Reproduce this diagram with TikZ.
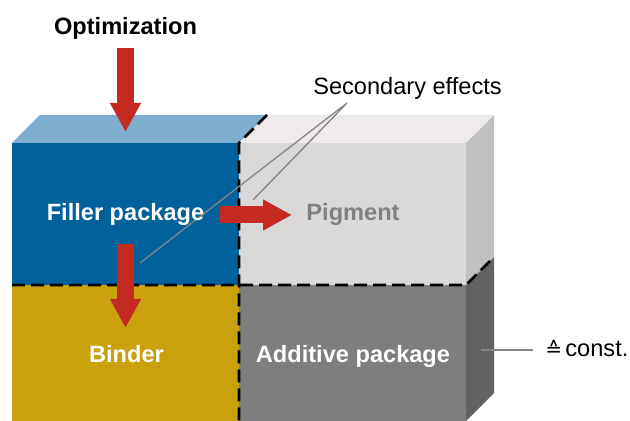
\documentclass[tikz,border=0pt]{standalone}
\usepackage{fontspec}
\setmainfont{Liberation Sans}
\newfontfamily\symfont{DejaVu Sans}
\usetikzlibrary{arrows.meta}
\definecolor{fillerfront}{HTML}{00619B}
\definecolor{fillertop}{HTML}{7FAECE}
\definecolor{pigfront}{HTML}{DAD9D8}
\definecolor{pigtop}{HTML}{EEEBEA}
\definecolor{pigside}{HTML}{C1C0BF}
\definecolor{binderc}{HTML}{C9A10C}
\definecolor{addfront}{HTML}{7F7E7D}
\definecolor{addside}{HTML}{636262}
\definecolor{arrowred}{HTML}{C42A20}
\definecolor{leadgray}{HTML}{858585}
\definecolor{pigtext}{HTML}{808080}
\tikzset{
  redarrow/.style={draw=arrowred, line width=8.5pt, -{Triangle[width=14.5pt,length=14.5pt]}},
  dashline/.style={line width=1.4pt, dash pattern=on 6.5pt off 3pt, line join=miter},
  leader/.style={draw=leadgray, line width=0.65pt},
  boldlabel/.style={font=\fontsize{11.8}{14}\selectfont\bfseries, inner sep=0pt, anchor=base},
  plainlabel/.style={font=\fontsize{11.8}{14}\selectfont, inner sep=0pt, anchor=base},
}
\begin{document}
\begin{tikzpicture}[x=0.5pt,y=-0.5pt]
\useasboundingbox (0,0) rectangle (630,421);
% faces
\fill[fillertop] (12,143) -- (40,115) -- (267,115) -- (239,143) -- cycle;
\fill[pigtop] (239,143) -- (267,115) -- (494,115) -- (466,143) -- cycle;
\fill[pigside] (466,143) -- (494,115) -- (494,257) -- (466,285) -- cycle;
\fill[addside] (466,285) -- (494,257) -- (494,393) -- (466,421) -- cycle;
\fill[fillerfront] (12,143) rectangle (239,285);
\fill[pigfront] (239,143) rectangle (466,285);
\fill[binderc] (12,285) rectangle (239,421);
\fill[addfront] (239,285) rectangle (466,421);
% dashed separators
\draw[dashline] (267,115) -- (239,143) -- (239,421);
\draw[dashline] (12,285) -- (466,285) -- (494,257);
% arrows
\coordinate (optS) at (125.5,48);
\coordinate (optE) at (125.5,132);
\coordinate (pigS) at (220,215);
\coordinate (pigE) at (292,215);
\coordinate (bindS) at (125.5,244);
\coordinate (bindE) at (125.5,328);
\draw[redarrow] (optS) -- (optE);
\draw[redarrow] (pigS) -- (pigE);
\draw[redarrow] (bindS) -- (bindE);
% leader lines
\coordinate (se) at (347,103);
\coordinate (se1) at (140,263);
\coordinate (se2) at (253,200);
\draw[leader] (se1) -- (se) -- (se2);
\coordinate (cA) at (481,350);
\coordinate (cB) at (533,350);
\draw[leader] (cA) -- (cB);
% labels
\node[boldlabel] (opt) at (125.5,35) {Optimization};
\node[boldlabel, text=white] (filler) at (125.5,221) {Filler package};
\node[boldlabel, text=pigtext] (pig) at (353,221) {Pigment};
\node[boldlabel, text=white] (binder) at (126.5,363) {Binder};
\node[boldlabel, text=white] (add) at (353,363) {Additive package};
\node[plainlabel] (sec) at (407.5,95) {Secondary effects};
\node[plainlabel, anchor=base west] (const) at (545,357) {\makebox[10pt][l]{\symfont\fontsize{10}{10}\selectfont ≙}const.};
\end{tikzpicture}
\end{document}
